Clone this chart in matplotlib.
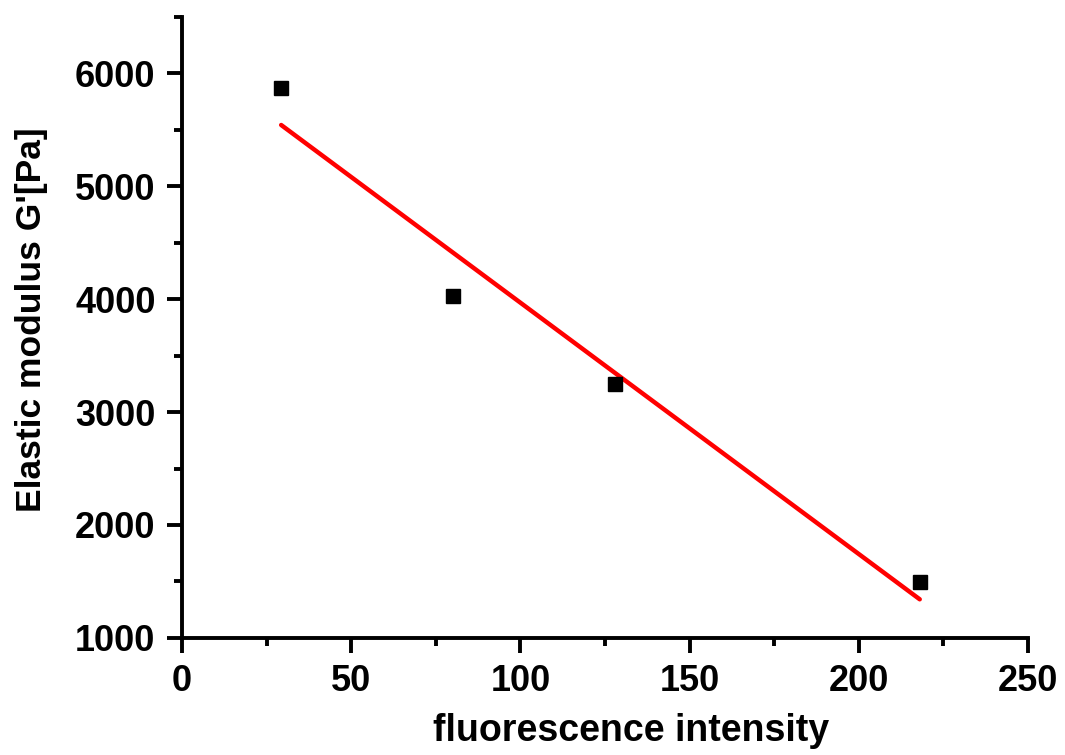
import numpy as np
import matplotlib.pyplot as plt
from matplotlib.ticker import MultipleLocator

intensity = [29.3, 80.1, 128.0, 218.0]
modulus = [5867, 4027, 3248, 1496]

plt.rcParams['font.family'] = ['Liberation Sans', 'DejaVu Sans']
plt.rcParams['font.weight'] = 'bold'

fig = plt.figure(figsize=(10.65, 7.55), dpi=100)
ax = fig.add_axes([0.1709, 0.155, 0.7944, 0.823])

# linear fit through the points
slope, icpt = np.polyfit(intensity, modulus, 1)
xfit = np.array([min(intensity), max(intensity)])
ax.plot(xfit, slope * xfit + icpt, color='#ff0000', lw=3.2, solid_capstyle='round', zorder=2)
ax.plot(intensity, modulus, 's', color='black', ms=10, zorder=3)

ax.set_xlim(0, 250)
ax.set_ylim(1000, 6500)
ax.xaxis.set_major_locator(MultipleLocator(50))
ax.xaxis.set_minor_locator(MultipleLocator(25))
ax.yaxis.set_major_locator(MultipleLocator(1000))
ax.yaxis.set_minor_locator(MultipleLocator(500))

for s in ['top', 'right']:
    ax.spines[s].set_visible(False)
for s in ['left', 'bottom']:
    ax.spines[s].set_linewidth(2.8)

ax.tick_params(which='major', direction='out', length=11, width=2.8, labelsize=26, pad=8)
ax.tick_params(which='minor', direction='out', length=6, width=2.8)
for lab in ax.get_xticklabels() + ax.get_yticklabels():
    lab.set_fontweight('bold')

ax.set_xlabel('fluorescence intensity', fontsize=27, fontweight='bold')
ax.set_ylabel("Elastic modulus G'[Pa]", fontsize=25.5, fontweight='bold')
ax.xaxis.set_label_coords(0.531, -0.12)
ax.yaxis.set_label_coords(-0.158, 0.512)

plt.savefig('out.png', dpi=100)
